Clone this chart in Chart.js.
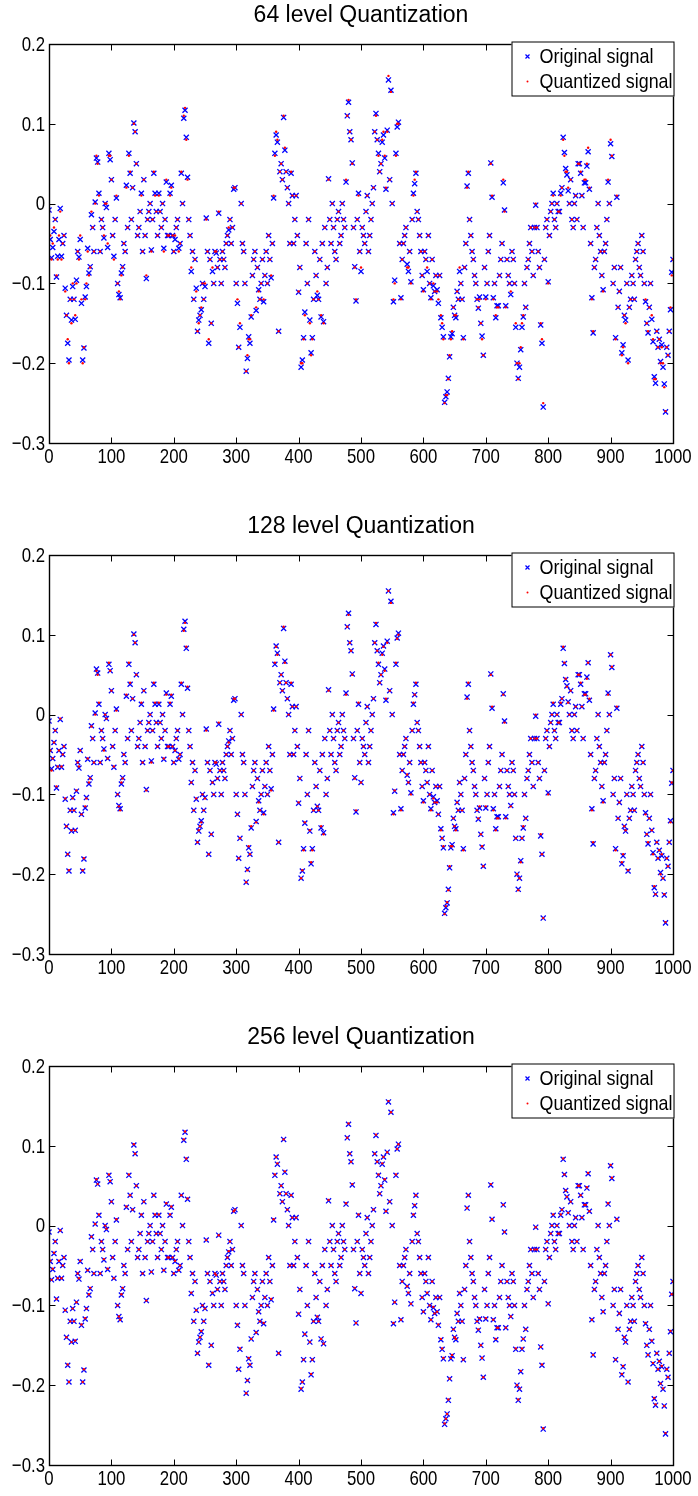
<!DOCTYPE html>
<html>
<head>
<meta charset="utf-8">
<script src="https://cdn.jsdelivr.net/npm/chart.js@4.4.0/dist/chart.umd.min.js"></script>
<style>
  html, body { margin: 0; padding: 0; background: #fff; }
  .panel { position: absolute; left: 0; width: 698px; height: 474px; }
</style>
</head>
<body>
<div class="panel" style="top:0px"><canvas id="c64" width="698" height="474"></canvas></div>
<div class="panel" style="top:511px"><canvas id="c128" width="698" height="474"></canvas></div>
<div class="panel" style="top:1022px"><canvas id="c256" width="698" height="474"></canvas></div>
<script>
// sample index (every 2nd sample of the 1000-sample signal)
const sampleIdx = [
  0,2,4,6,8,10,12,14,16,18,20,22,24,26,28,30,32,34,36,38,
  40,42,44,46,48,50,52,54,56,58,60,62,64,66,68,70,72,74,76,78,
  80,82,84,86,88,90,92,94,96,98,100,102,104,106,108,110,112,114,116,118,
  120,122,124,126,128,130,132,134,136,138,140,142,144,146,148,150,152,154,156,158,
  160,162,164,166,168,170,172,174,176,178,180,182,184,186,188,190,192,194,196,198,
  200,202,204,206,208,210,212,214,216,218,220,222,224,226,228,230,232,234,236,238,
  240,242,244,246,248,250,252,254,256,258,260,262,264,266,268,270,272,274,276,278,
  280,282,284,286,288,290,292,294,296,298,300,302,304,306,308,310,312,314,316,318,
  320,322,324,326,328,330,332,334,336,338,340,342,344,346,348,350,352,354,356,358,
  360,362,364,366,368,370,372,374,376,378,380,382,384,386,388,390,392,394,396,398,
  400,402,404,406,408,410,412,414,416,418,420,422,424,426,428,430,432,434,436,438,
  440,442,444,446,448,450,452,454,456,458,460,462,464,466,468,470,472,474,476,478,
  480,482,484,486,488,490,492,494,496,498,500,502,504,506,508,510,512,514,516,518,
  520,522,524,526,528,530,532,534,536,538,540,542,544,546,548,550,552,554,556,558,
  560,562,564,566,568,570,572,574,576,578,580,582,584,586,588,590,592,594,596,598,
  600,602,604,606,608,610,612,614,616,618,620,622,624,626,628,630,632,634,636,638,
  640,642,644,646,648,650,652,654,656,658,660,662,664,666,668,670,672,674,676,678,
  680,682,684,686,688,690,692,694,696,698,700,702,704,706,708,710,712,714,716,718,
  720,722,724,726,728,730,732,734,736,738,740,742,744,746,748,750,752,754,756,758,
  760,762,764,766,768,770,772,774,776,778,780,782,784,786,788,790,792,794,796,798,
  800,802,804,806,808,810,812,814,816,818,820,822,824,826,828,830,832,834,836,838,
  840,842,844,846,848,850,852,854,856,858,860,862,864,866,868,870,872,874,876,878,
  880,882,884,886,888,890,892,894,896,898,900,902,904,906,908,910,912,914,916,918,
  920,922,924,926,928,930,932,934,936,938,940,942,944,946,948,950,952,954,956,958,
  960,962,964,966,968,970,972,974,976,978,980,982,984,986,988,990,992,994,996,998,
  1000
];

// original signal
const original = [
  -0.008,-0.045,-0.068,-0.055,-0.035,-0.02,-0.092,-0.066,-0.045,-0.006,-0.066,-0.05,-0.04,-0.106,-0.14,-0.175,-0.196,-0.12,-0.146,-0.104,
  -0.12,-0.145,-0.096,-0.06,-0.067,-0.045,-0.125,-0.196,-0.181,-0.117,-0.104,-0.056,-0.087,-0.079,-0.014,-0.03,-0.06,0.002,0.057,0.052,
  0.013,-0.06,-0.02,-0.03,-0.043,0,-0.005,-0.055,0.063,0.055,0.03,-0.04,-0.066,-0.02,0.007,-0.1,-0.114,-0.118,-0.087,-0.079,
  -0.05,-0.06,0.023,-0.03,0.063,0.038,-0.02,0.02,0.101,0.09,0.05,-0.04,-0.03,-0.01,0.013,-0.06,0.03,-0.04,-0.094,-0.02,
  -0.01,0,-0.058,-0.02,0.038,0.013,-0.01,-0.04,0.013,-0.01,-0.03,0,-0.056,-0.02,0.027,-0.04,-0.04,0.013,0.023,-0.04,
  -0.06,-0.045,-0.03,-0.02,-0.056,-0.05,0.038,0,0.107,0.117,0.083,0.033,-0.02,-0.04,-0.085,-0.06,-0.12,-0.07,-0.106,-0.16,
  -0.146,-0.14,-0.133,-0.1,-0.12,-0.104,-0.018,-0.06,-0.175,-0.07,-0.15,-0.085,-0.1,-0.06,-0.062,-0.08,-0.012,-0.07,-0.1,-0.06,
  -0.07,-0.08,-0.05,-0.04,-0.033,-0.02,-0.05,-0.03,0.018,0.02,-0.1,-0.125,-0.18,-0.155,0,-0.05,-0.06,-0.1,-0.21,-0.194,
  -0.167,-0.175,-0.142,-0.09,-0.07,-0.06,-0.134,-0.08,-0.108,-0.12,-0.1,-0.07,-0.123,-0.09,-0.06,-0.1,-0.04,-0.07,-0.093,-0.05,
  0.007,0.063,0.086,0.077,-0.16,0.04,0.05,0.03,0.108,0.067,0.04,0.02,0,-0.05,0.038,0.01,-0.05,-0.02,0.01,-0.04,
  -0.111,-0.08,-0.205,-0.196,-0.168,-0.136,-0.05,-0.1,-0.02,-0.146,-0.187,-0.168,-0.12,-0.06,-0.09,-0.115,-0.12,-0.07,-0.142,-0.05,
  -0.148,-0.03,-0.1,-0.08,0.031,-0.02,-0.05,0,-0.03,-0.06,-0.07,-0.02,-0.01,-0.05,-0.04,0,-0.02,-0.03,0.027,0.11,
  0.127,0.09,0.08,0.051,-0.03,-0.079,-0.122,-0.02,0.013,-0.06,-0.085,-0.03,-0.04,-0.05,-0.01,0.01,-0.06,-0.04,-0.02,0,
  0.02,0.09,0.113,0.08,0.063,0.04,0.05,0.077,0.086,0.057,0.018,0.092,0.155,0.03,0.142,0,-0.123,-0.096,0.063,0.096,
  0.102,-0.05,-0.118,-0.07,-0.05,-0.04,-0.03,-0.076,-0.085,-0.06,-0.098,-0.02,0.013,0.025,0.038,-0.01,-0.02,-0.04,-0.06,-0.09,
  -0.108,-0.06,-0.07,-0.085,-0.04,-0.1,-0.118,-0.07,-0.103,-0.11,-0.09,-0.108,-0.125,-0.09,-0.143,-0.155,-0.167,-0.249,-0.242,-0.236,
  -0.219,-0.192,-0.167,-0.163,-0.13,-0.14,-0.143,-0.11,-0.12,-0.085,-0.1,-0.12,-0.168,-0.08,-0.05,0.022,0.038,-0.02,-0.04,-0.06,
  -0.07,-0.09,-0.1,-0.12,-0.131,-0.117,-0.15,-0.166,-0.19,-0.08,-0.117,-0.1,-0.06,-0.04,0.051,0.008,-0.118,-0.1,-0.143,-0.128,
  -0.128,-0.09,-0.07,-0.05,0.026,-0.008,-0.128,-0.07,-0.09,-0.1,-0.114,-0.06,-0.07,-0.1,-0.155,-0.2,-0.219,-0.205,-0.183,-0.155,
  -0.142,-0.1,-0.13,-0.08,-0.07,-0.05,-0.03,-0.06,-0.09,-0.03,-0.002,-0.03,-0.06,-0.08,-0.152,-0.175,-0.255,-0.07,-0.03,-0.02,
  -0.098,-0.04,-0.01,0,0.013,-0.02,-0.03,0,-0.01,-0.01,0.013,0.02,0.083,0.064,0.044,0.036,0.016,0,0.03,-0.02,
  -0.03,0,0.01,-0.02,0.05,0.05,0.038,0.01,-0.03,0.026,0.026,0.047,0.065,0.018,-0.05,-0.118,-0.162,-0.08,-0.07,-0.03,
  0,-0.04,-0.06,-0.09,-0.108,-0.06,-0.05,-0.02,0.027,0,0.075,0.059,-0.1,-0.08,-0.168,0.008,-0.13,-0.11,-0.08,-0.187,
  -0.177,-0.14,-0.146,-0.1,-0.196,-0.13,-0.12,-0.09,-0.1,-0.12,-0.07,-0.06,-0.05,-0.08,-0.09,-0.04,-0.06,-0.1,-0.123,-0.15,
  -0.162,-0.13,-0.1,-0.145,-0.173,-0.217,-0.225,-0.16,-0.18,-0.17,-0.198,-0.177,-0.205,-0.226,-0.261,-0.18,-0.19,-0.16,-0.133,-0.086,
  -0.07
];

// 64-level quantized signal
const quant64 = [
  -0.01,-0.04,-0.07,-0.05,-0.03,-0.02,-0.09,-0.07,-0.04,-0.01,-0.07,-0.05,-0.04,-0.11,-0.14,-0.17,-0.2,-0.12,-0.15,-0.1,
  -0.12,-0.14,-0.1,-0.06,-0.07,-0.04,-0.12,-0.2,-0.18,-0.12,-0.1,-0.06,-0.09,-0.08,-0.01,-0.03,-0.06,0,0.06,0.05,
  0.01,-0.06,-0.02,-0.03,-0.04,0,0,-0.05,0.06,0.06,0.03,-0.04,-0.07,-0.02,0.01,-0.1,-0.11,-0.12,-0.09,-0.08,
  -0.05,-0.06,0.02,-0.03,0.06,0.04,-0.02,0.02,0.1,0.09,0.05,-0.04,-0.03,-0.01,0.01,-0.06,0.03,-0.04,-0.09,-0.02,
  -0.01,0,-0.06,-0.02,0.04,0.01,-0.01,-0.04,0.01,-0.01,-0.03,0,-0.06,-0.02,0.03,-0.04,-0.04,0.01,0.02,-0.04,
  -0.06,-0.04,-0.03,-0.02,-0.06,-0.05,0.04,0,0.11,0.12,0.08,0.03,-0.02,-0.04,-0.08,-0.06,-0.12,-0.07,-0.11,-0.16,
  -0.15,-0.14,-0.13,-0.1,-0.12,-0.1,-0.02,-0.06,-0.17,-0.07,-0.15,-0.08,-0.1,-0.06,-0.06,-0.08,-0.01,-0.07,-0.1,-0.06,
  -0.07,-0.08,-0.05,-0.04,-0.03,-0.02,-0.05,-0.03,0.02,0.02,-0.1,-0.12,-0.18,-0.15,0,-0.05,-0.06,-0.1,-0.21,-0.19,
  -0.17,-0.17,-0.14,-0.09,-0.07,-0.06,-0.13,-0.08,-0.11,-0.12,-0.1,-0.07,-0.12,-0.09,-0.06,-0.1,-0.04,-0.07,-0.09,-0.05,
  0.01,0.06,0.09,0.08,-0.16,0.04,0.05,0.03,0.11,0.07,0.04,0.02,0,-0.05,0.04,0.01,-0.05,-0.02,0.01,-0.04,
  -0.11,-0.08,-0.2,-0.2,-0.17,-0.14,-0.05,-0.1,-0.02,-0.15,-0.19,-0.17,-0.12,-0.06,-0.09,-0.11,-0.12,-0.07,-0.14,-0.05,
  -0.15,-0.03,-0.1,-0.08,0.03,-0.02,-0.05,0,-0.03,-0.06,-0.07,-0.02,-0.01,-0.05,-0.04,0,-0.02,-0.03,0.03,0.11,
  0.13,0.09,0.08,0.05,-0.03,-0.08,-0.12,-0.02,0.01,-0.06,-0.08,-0.03,-0.04,-0.05,-0.01,0.01,-0.06,-0.04,-0.02,0,
  0.02,0.09,0.11,0.08,0.06,0.04,0.05,0.08,0.09,0.06,0.02,0.09,0.16,0.03,0.14,0,-0.12,-0.1,0.06,0.1,
  0.1,-0.05,-0.12,-0.07,-0.05,-0.04,-0.03,-0.08,-0.08,-0.06,-0.1,-0.02,0.01,0.03,0.04,-0.01,-0.02,-0.04,-0.06,-0.09,
  -0.11,-0.06,-0.07,-0.08,-0.04,-0.1,-0.12,-0.07,-0.1,-0.11,-0.09,-0.11,-0.12,-0.09,-0.14,-0.15,-0.17,-0.25,-0.24,-0.24,
  -0.22,-0.19,-0.17,-0.16,-0.13,-0.14,-0.14,-0.11,-0.12,-0.08,-0.1,-0.12,-0.17,-0.08,-0.05,0.02,0.04,-0.02,-0.04,-0.06,
  -0.07,-0.09,-0.1,-0.12,-0.13,-0.12,-0.15,-0.17,-0.19,-0.08,-0.12,-0.1,-0.06,-0.04,0.05,0.01,-0.12,-0.1,-0.14,-0.13,
  -0.13,-0.09,-0.07,-0.05,0.03,-0.01,-0.13,-0.07,-0.09,-0.1,-0.11,-0.06,-0.07,-0.1,-0.15,-0.2,-0.22,-0.2,-0.18,-0.15,
  -0.14,-0.1,-0.13,-0.08,-0.07,-0.05,-0.03,-0.06,-0.09,-0.03,0,-0.03,-0.06,-0.08,-0.15,-0.17,-0.25,-0.07,-0.03,-0.02,
  -0.1,-0.04,-0.01,0,0.01,-0.02,-0.03,0,-0.01,-0.01,0.01,0.02,0.08,0.06,0.04,0.04,0.02,0,0.03,-0.02,
  -0.03,0,0.01,-0.02,0.05,0.05,0.04,0.01,-0.03,0.03,0.03,0.05,0.07,0.02,-0.05,-0.12,-0.16,-0.08,-0.07,-0.03,
  0,-0.04,-0.06,-0.09,-0.11,-0.06,-0.05,-0.02,0.03,0,0.08,0.06,-0.1,-0.08,-0.17,0.01,-0.13,-0.11,-0.08,-0.19,
  -0.18,-0.14,-0.15,-0.1,-0.2,-0.13,-0.12,-0.09,-0.1,-0.12,-0.07,-0.06,-0.05,-0.08,-0.09,-0.04,-0.06,-0.1,-0.12,-0.15,
  -0.16,-0.13,-0.1,-0.14,-0.17,-0.22,-0.22,-0.16,-0.18,-0.17,-0.2,-0.18,-0.2,-0.23,-0.26,-0.18,-0.19,-0.16,-0.13,-0.09,
  -0.07
];

// 128-level quantized signal
const quant128 = [
  -0.01,-0.045,-0.07,-0.055,-0.035,-0.02,-0.09,-0.065,-0.045,-0.005,-0.065,-0.05,-0.04,-0.105,-0.14,-0.175,-0.195,-0.12,-0.145,-0.105,
  -0.12,-0.145,-0.095,-0.06,-0.065,-0.045,-0.125,-0.195,-0.18,-0.115,-0.105,-0.055,-0.085,-0.08,-0.015,-0.03,-0.06,0,0.055,0.05,
  0.015,-0.06,-0.02,-0.03,-0.045,0,-0.005,-0.055,0.065,0.055,0.03,-0.04,-0.065,-0.02,0.005,-0.1,-0.115,-0.12,-0.085,-0.08,
  -0.05,-0.06,0.025,-0.03,0.065,0.04,-0.02,0.02,0.1,0.09,0.05,-0.04,-0.03,-0.01,0.015,-0.06,0.03,-0.04,-0.095,-0.02,
  -0.01,0,-0.06,-0.02,0.04,0.015,-0.01,-0.04,0.015,-0.01,-0.03,0,-0.055,-0.02,0.025,-0.04,-0.04,0.015,0.025,-0.04,
  -0.06,-0.045,-0.03,-0.02,-0.055,-0.05,0.04,0,0.105,0.115,0.085,0.035,-0.02,-0.04,-0.085,-0.06,-0.12,-0.07,-0.105,-0.16,
  -0.145,-0.14,-0.135,-0.1,-0.12,-0.105,-0.02,-0.06,-0.175,-0.07,-0.15,-0.085,-0.1,-0.06,-0.06,-0.08,-0.01,-0.07,-0.1,-0.06,
  -0.07,-0.08,-0.05,-0.04,-0.035,-0.02,-0.05,-0.03,0.02,0.02,-0.1,-0.125,-0.18,-0.155,0,-0.05,-0.06,-0.1,-0.21,-0.195,
  -0.165,-0.175,-0.14,-0.09,-0.07,-0.06,-0.135,-0.08,-0.11,-0.12,-0.1,-0.07,-0.125,-0.09,-0.06,-0.1,-0.04,-0.07,-0.095,-0.05,
  0.005,0.065,0.085,0.075,-0.16,0.04,0.05,0.03,0.11,0.065,0.04,0.02,0,-0.05,0.04,0.01,-0.05,-0.02,0.01,-0.04,
  -0.11,-0.08,-0.205,-0.195,-0.17,-0.135,-0.05,-0.1,-0.02,-0.145,-0.185,-0.17,-0.12,-0.06,-0.09,-0.115,-0.12,-0.07,-0.14,-0.05,
  -0.15,-0.03,-0.1,-0.08,0.03,-0.02,-0.05,0,-0.03,-0.06,-0.07,-0.02,-0.01,-0.05,-0.04,0,-0.02,-0.03,0.025,0.11,
  0.125,0.09,0.08,0.05,-0.03,-0.08,-0.12,-0.02,0.015,-0.06,-0.085,-0.03,-0.04,-0.05,-0.01,0.01,-0.06,-0.04,-0.02,0,
  0.02,0.09,0.115,0.08,0.065,0.04,0.05,0.075,0.085,0.055,0.02,0.09,0.155,0.03,0.14,0,-0.125,-0.095,0.065,0.095,
  0.1,-0.05,-0.12,-0.07,-0.05,-0.04,-0.03,-0.075,-0.085,-0.06,-0.1,-0.02,0.015,0.025,0.04,-0.01,-0.02,-0.04,-0.06,-0.09,
  -0.11,-0.06,-0.07,-0.085,-0.04,-0.1,-0.12,-0.07,-0.105,-0.11,-0.09,-0.11,-0.125,-0.09,-0.145,-0.155,-0.165,-0.25,-0.24,-0.235,
  -0.22,-0.19,-0.165,-0.165,-0.13,-0.14,-0.145,-0.11,-0.12,-0.085,-0.1,-0.12,-0.17,-0.08,-0.05,0.02,0.04,-0.02,-0.04,-0.06,
  -0.07,-0.09,-0.1,-0.12,-0.13,-0.115,-0.15,-0.165,-0.19,-0.08,-0.115,-0.1,-0.06,-0.04,0.05,0.01,-0.12,-0.1,-0.145,-0.13,
  -0.13,-0.09,-0.07,-0.05,0.025,-0.01,-0.13,-0.07,-0.09,-0.1,-0.115,-0.06,-0.07,-0.1,-0.155,-0.2,-0.22,-0.205,-0.185,-0.155,
  -0.14,-0.1,-0.13,-0.08,-0.07,-0.05,-0.03,-0.06,-0.09,-0.03,0,-0.03,-0.06,-0.08,-0.15,-0.175,-0.255,-0.07,-0.03,-0.02,
  -0.1,-0.04,-0.01,0,0.015,-0.02,-0.03,0,-0.01,-0.01,0.015,0.02,0.085,0.065,0.045,0.035,0.015,0,0.03,-0.02,
  -0.03,0,0.01,-0.02,0.05,0.05,0.04,0.01,-0.03,0.025,0.025,0.045,0.065,0.02,-0.05,-0.12,-0.16,-0.08,-0.07,-0.03,
  0,-0.04,-0.06,-0.09,-0.11,-0.06,-0.05,-0.02,0.025,0,0.075,0.06,-0.1,-0.08,-0.17,0.01,-0.13,-0.11,-0.08,-0.185,
  -0.175,-0.14,-0.145,-0.1,-0.195,-0.13,-0.12,-0.09,-0.1,-0.12,-0.07,-0.06,-0.05,-0.08,-0.09,-0.04,-0.06,-0.1,-0.125,-0.15,
  -0.16,-0.13,-0.1,-0.145,-0.175,-0.215,-0.225,-0.16,-0.18,-0.17,-0.2,-0.175,-0.205,-0.225,-0.26,-0.18,-0.19,-0.16,-0.135,-0.085,
  -0.07
];

// 256-level quantized signal
const quant256 = [
  -0.008,-0.044,-0.068,-0.054,-0.034,-0.02,-0.092,-0.066,-0.044,-0.006,-0.066,-0.05,-0.04,-0.106,-0.14,-0.174,-0.196,-0.12,-0.146,-0.104,
  -0.12,-0.144,-0.096,-0.06,-0.066,-0.044,-0.124,-0.196,-0.18,-0.116,-0.104,-0.056,-0.086,-0.078,-0.014,-0.03,-0.06,0.002,0.058,0.052,
  0.014,-0.06,-0.02,-0.03,-0.042,0,-0.004,-0.054,0.064,0.056,0.03,-0.04,-0.066,-0.02,0.008,-0.1,-0.114,-0.118,-0.086,-0.078,
  -0.05,-0.06,0.024,-0.03,0.064,0.038,-0.02,0.02,0.102,0.09,0.05,-0.04,-0.03,-0.01,0.014,-0.06,0.03,-0.04,-0.094,-0.02,
  -0.01,0,-0.058,-0.02,0.038,0.014,-0.01,-0.04,0.014,-0.01,-0.03,0,-0.056,-0.02,0.028,-0.04,-0.04,0.014,0.024,-0.04,
  -0.06,-0.044,-0.03,-0.02,-0.056,-0.05,0.038,0,0.108,0.118,0.084,0.034,-0.02,-0.04,-0.084,-0.06,-0.12,-0.07,-0.106,-0.16,
  -0.146,-0.14,-0.132,-0.1,-0.12,-0.104,-0.018,-0.06,-0.174,-0.07,-0.15,-0.084,-0.1,-0.06,-0.062,-0.08,-0.012,-0.07,-0.1,-0.06,
  -0.07,-0.08,-0.05,-0.04,-0.032,-0.02,-0.05,-0.03,0.018,0.02,-0.1,-0.124,-0.18,-0.154,0,-0.05,-0.06,-0.1,-0.21,-0.194,
  -0.166,-0.174,-0.142,-0.09,-0.07,-0.06,-0.134,-0.08,-0.108,-0.12,-0.1,-0.07,-0.122,-0.09,-0.06,-0.1,-0.04,-0.07,-0.092,-0.05,
  0.008,0.064,0.086,0.078,-0.16,0.04,0.05,0.03,0.108,0.068,0.04,0.02,0,-0.05,0.038,0.01,-0.05,-0.02,0.01,-0.04,
  -0.11,-0.08,-0.204,-0.196,-0.168,-0.136,-0.05,-0.1,-0.02,-0.146,-0.186,-0.168,-0.12,-0.06,-0.09,-0.114,-0.12,-0.07,-0.142,-0.05,
  -0.148,-0.03,-0.1,-0.08,0.032,-0.02,-0.05,0,-0.03,-0.06,-0.07,-0.02,-0.01,-0.05,-0.04,0,-0.02,-0.03,0.028,0.11,
  0.128,0.09,0.08,0.052,-0.03,-0.078,-0.122,-0.02,0.014,-0.06,-0.084,-0.03,-0.04,-0.05,-0.01,0.01,-0.06,-0.04,-0.02,0,
  0.02,0.09,0.114,0.08,0.064,0.04,0.05,0.078,0.086,0.058,0.018,0.092,0.156,0.03,0.142,0,-0.122,-0.096,0.064,0.096,
  0.102,-0.05,-0.118,-0.07,-0.05,-0.04,-0.03,-0.076,-0.084,-0.06,-0.098,-0.02,0.014,0.026,0.038,-0.01,-0.02,-0.04,-0.06,-0.09,
  -0.108,-0.06,-0.07,-0.084,-0.04,-0.1,-0.118,-0.07,-0.102,-0.11,-0.09,-0.108,-0.124,-0.09,-0.142,-0.154,-0.166,-0.248,-0.242,-0.236,
  -0.218,-0.192,-0.166,-0.162,-0.13,-0.14,-0.142,-0.11,-0.12,-0.084,-0.1,-0.12,-0.168,-0.08,-0.05,0.022,0.038,-0.02,-0.04,-0.06,
  -0.07,-0.09,-0.1,-0.12,-0.13,-0.116,-0.15,-0.166,-0.19,-0.08,-0.116,-0.1,-0.06,-0.04,0.052,0.008,-0.118,-0.1,-0.142,-0.128,
  -0.128,-0.09,-0.07,-0.05,0.026,-0.008,-0.128,-0.07,-0.09,-0.1,-0.114,-0.06,-0.07,-0.1,-0.154,-0.2,-0.218,-0.204,-0.182,-0.154,
  -0.142,-0.1,-0.13,-0.08,-0.07,-0.05,-0.03,-0.06,-0.09,-0.03,-0.002,-0.03,-0.06,-0.08,-0.152,-0.174,-0.254,-0.07,-0.03,-0.02,
  -0.098,-0.04,-0.01,0,0.014,-0.02,-0.03,0,-0.01,-0.01,0.014,0.02,0.084,0.064,0.044,0.036,0.016,0,0.03,-0.02,
  -0.03,0,0.01,-0.02,0.05,0.05,0.038,0.01,-0.03,0.026,0.026,0.048,0.066,0.018,-0.05,-0.118,-0.162,-0.08,-0.07,-0.03,
  0,-0.04,-0.06,-0.09,-0.108,-0.06,-0.05,-0.02,0.028,0,0.076,0.06,-0.1,-0.08,-0.168,0.008,-0.13,-0.11,-0.08,-0.186,
  -0.176,-0.14,-0.146,-0.1,-0.196,-0.13,-0.12,-0.09,-0.1,-0.12,-0.07,-0.06,-0.05,-0.08,-0.09,-0.04,-0.06,-0.1,-0.122,-0.15,
  -0.162,-0.13,-0.1,-0.144,-0.172,-0.216,-0.224,-0.16,-0.18,-0.17,-0.198,-0.176,-0.204,-0.226,-0.26,-0.18,-0.19,-0.16,-0.132,-0.086,
  -0.07
];

const xTicks = [0, 100, 200, 300, 400, 500, 600, 700, 800, 900, 1000];
const yTicks = [-0.3, -0.2, -0.1, 0, 0.1, 0.2];
const legendLabels = ['Original signal', 'Quantized signal'];

const FONT = "'Liberation Sans', Arial, Helvetica, sans-serif";

function toPoints(values) {
  return sampleIdx.map((n, i) => ({ x: n, y: values[i] }));
}

function fmtY(v) {
  const r = Math.round(v * 10) / 10;
  if (r === 0) return '0';
  return r < 0 ? '\u2212' + Math.abs(r).toFixed(1) : r.toFixed(1);
}

// the MATLAB fonts are narrower than Liberation Sans, so squeeze them a bit
function narrowText(ctx, text, x, y, squeeze) {
  ctx.fillText(text, x, y, ctx.measureText(text).width * squeeze);
}

// box with inward ticks on all four sides, tick labels and the boxed legend
const frameAndLegend = {
  id: 'frameAndLegend',
  afterDraw(chart) {
    const { ctx, chartArea: a, scales } = chart;
    const L = Math.round(a.left) + 0.5, R = Math.round(a.right) + 0.5;
    const T = Math.round(a.top) + 0.5, B = Math.round(a.bottom) + 0.5;
    ctx.save();
    ctx.strokeStyle = '#000';
    ctx.lineWidth = 1;
    ctx.beginPath();
    xTicks.forEach(v => {
      const px = Math.round(scales.x.getPixelForValue(v)) + 0.5;
      ctx.moveTo(px, B); ctx.lineTo(px, B - 6);
      ctx.moveTo(px, T); ctx.lineTo(px, T + 6);
    });
    yTicks.forEach(v => {
      const py = Math.round(scales.y.getPixelForValue(v)) + 0.5;
      ctx.moveTo(L, py); ctx.lineTo(L + 6, py);
      ctx.moveTo(R, py); ctx.lineTo(R - 6, py);
    });
    ctx.stroke();
    ctx.lineWidth = 1.4;
    ctx.strokeRect(L, T, R - L, B - T);

    // tick labels
    ctx.fillStyle = '#000';
    ctx.font = '21px ' + FONT;
    ctx.textAlign = 'right';
    ctx.textBaseline = 'middle';
    yTicks.forEach(v => {
      narrowText(ctx, fmtY(v), a.left - 4, scales.y.getPixelForValue(v) + 1, 0.8);
    });
    ctx.textAlign = 'center';
    ctx.textBaseline = 'alphabetic';
    xTicks.forEach(v => {
      narrowText(ctx, String(v), scales.x.getPixelForValue(v), a.bottom + 20, 0.8);
    });

    // legend
    const lx = R - 162, ly = T - 3, lw = 163, lh = 55;
    ctx.fillStyle = '#fff';
    ctx.fillRect(lx, ly, lw, lh);
    ctx.lineWidth = 1;
    ctx.strokeRect(lx + 0.5, ly + 0.5, lw - 1, lh - 1);
    const r1 = ly + 15, r2 = ly + 40;
    ctx.strokeStyle = '#0000ff';
    ctx.lineWidth = 1.2;
    ctx.beginPath();
    ctx.moveTo(lx + 14, r1 - 2); ctx.lineTo(lx + 18, r1 + 2);
    ctx.moveTo(lx + 18, r1 - 2); ctx.lineTo(lx + 14, r1 + 2);
    ctx.stroke();
    ctx.fillStyle = '#ff0000';
    ctx.beginPath();
    ctx.arc(lx + 16, r2, 1, 0, Math.PI * 2);
    ctx.fill();
    ctx.fillStyle = '#000';
    ctx.font = '21px ' + FONT;
    ctx.textBaseline = 'middle';
    ctx.textAlign = 'left';
    ctx.fillText(legendLabels[0], lx + 28, r1 + 1, 114);
    ctx.fillText(legendLabels[1], lx + 28, r2 + 1, 133);
    ctx.restore();
  }
};

function makeChart(id, title, quant) {
  new Chart(document.getElementById(id), {
    type: 'scatter',
    data: {
      datasets: [
        {
          label: legendLabels[0],
          data: toPoints(original),
          pointStyle: 'crossRot',
          pointRadius: 3.6,
          borderWidth: 1.3,
          borderColor: '#0000ff',
          backgroundColor: '#0000ff',
          order: 1
        },
        {
          label: legendLabels[1],
          data: toPoints(quant),
          pointStyle: 'circle',
          pointRadius: 1.2,
          borderWidth: 0,
          borderColor: '#ff0000',
          backgroundColor: '#ff0000',
          order: 0
        }
      ]
    },
    options: {
      responsive: false,
      animation: false,
      devicePixelRatio: 1,
      // left/right padding keeps the title centred over the axes box
      layout: { padding: { left: 49, right: 25, top: 0, bottom: 0 } },
      plugins: {
        legend: { display: false },
        tooltip: { enabled: false },
        title: {
          display: true,
          text: title,
          color: '#000',
          font: { family: FONT, size: 23, weight: 'normal', lineHeight: 1.2 },
          padding: { top: 2, bottom: 14.4 }
        }
      },
      scales: {
        x: {
          type: 'linear',
          min: 0,
          max: 1000,
          afterFit: s => { s.height = 31; },
          afterBuildTicks: s => { s.ticks = xTicks.map(v => ({ value: v })); },
          ticks: { display: false },
          grid: { display: false, drawTicks: false },
          border: { display: false }
        },
        y: {
          min: -0.3,
          max: 0.2,
          afterFit: s => { s.width = 0; },
          afterBuildTicks: s => { s.ticks = yTicks.map(v => ({ value: v })); },
          ticks: { display: false, callback: fmtY },
          grid: { display: false, drawTicks: false },
          border: { display: false }
        }
      }
    },
    plugins: [frameAndLegend]
  });
}

makeChart('c64', '64 level Quantization', quant64);
makeChart('c128', '128 level Quantization', quant128);
makeChart('c256', '256 level Quantization', quant256);
</script>
</body>
</html>
